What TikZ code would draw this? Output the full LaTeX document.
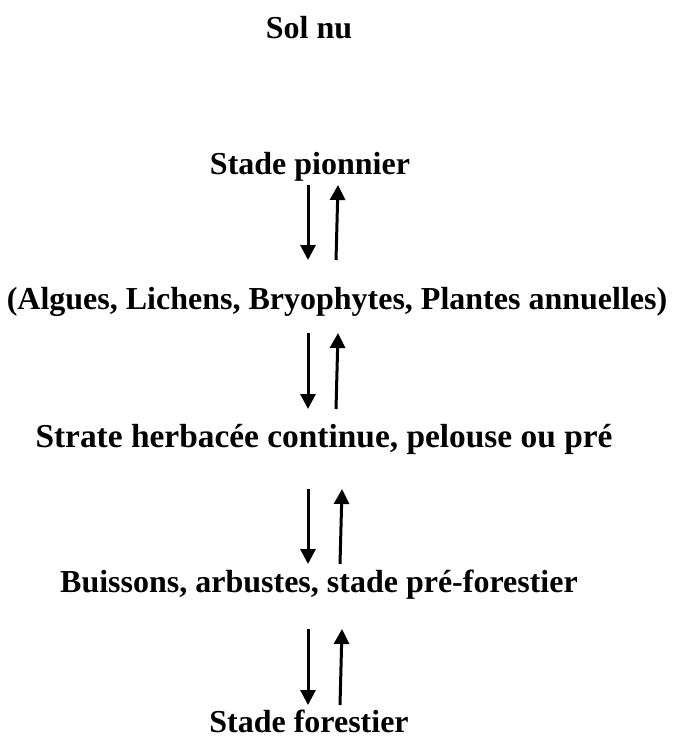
\documentclass[tikz,border=0pt]{standalone}
\usepackage{fontspec}
\setmainfont{Liberation Serif}
\usetikzlibrary{arrows.meta}

\begin{document}
\begin{tikzpicture}[x=0.5pt,y=-0.5pt,
  every node/.style={font=\fontsize{16}{19}\selectfont\bfseries, inner sep=0pt, anchor=base},
  stage arrow/.style={line width=1.5pt, -{Triangle[width=7.5pt,length=7.5pt]}}]
\useasboundingbox (0,0) rectangle (673,743);
% stages
\node (sol) at (309,39) {Sol nu};
\node (pion) at (310,175) {Stade pionnier};
\node (alg) at (337,309) {(Algues, Lichens, Bryophytes, Plantes annuelles)};
\node[font=\fontsize{16.7}{19}\selectfont\bfseries] (herb) at (324,447) {Strate herbacée continue, pelouse ou pré};
\node (buis) at (319,592) {Buissons, arbustes, stade pré-forestier};
\node (for) at (309,732) {Stade forestier};
% arrows, down then up
\foreach \ya/\yb/\xu in {185/260/336, 333/409/336, 489/564/340, 629/705/340} {
  \coordinate (d1) at (308,\ya);
  \coordinate (d2) at (308,\yb);
  \coordinate (u1) at (\xu,\yb);
  \coordinate (u2) at (\xu+2,\ya);
  \draw[stage arrow] (d1) -- (d2);
  \draw[stage arrow] (u1) -- (u2);
}
\end{tikzpicture}
\end{document}
